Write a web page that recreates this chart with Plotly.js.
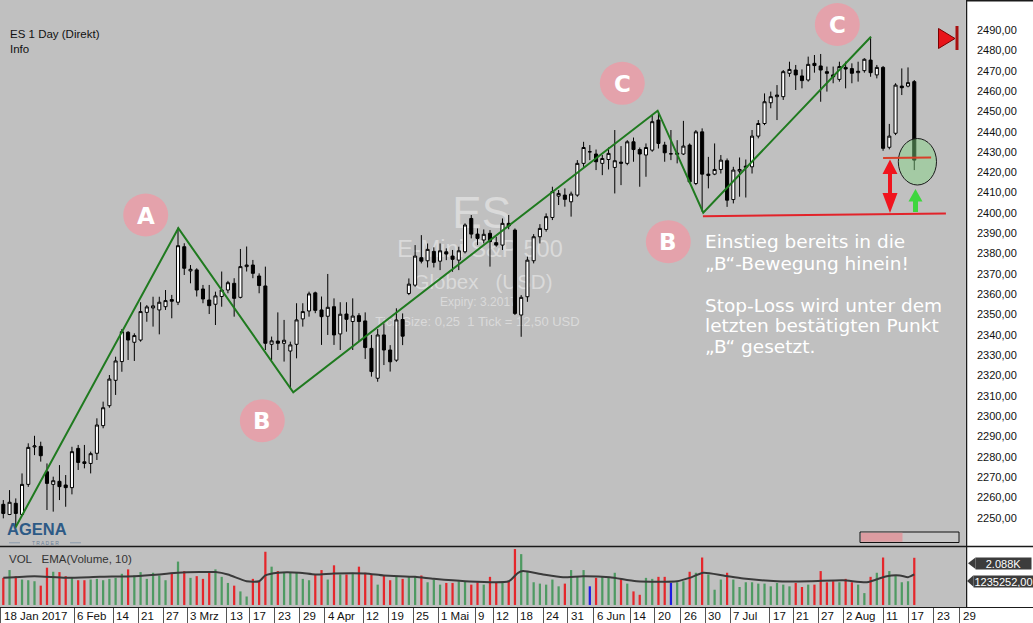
<!DOCTYPE html>
<html><head><meta charset="utf-8">
<script src="https://cdn.plot.ly/plotly-3.0.1.min.js"></script>
<style>html,body{margin:0;padding:0;background:#fff;overflow:hidden}#chart{width:1033px;height:623px}</style>
</head><body><div id="chart"></div>
<script>
// ---- Daily ES candles (bar index 0 = 18 Jan 2017 ... 146 = 17 Aug 2017) ----
const openP = [2256.7,2251.7,2257.2,2251.7,2266.5,2284.9,2285.2,2272.7,2266.5,2268.0,
2266.2,2264.9,2284.2,2277.6,2276.8,2281.8,2295.4,2305.2,2317.7,2326.9,
2341.3,2336.4,2337.5,2351.1,2353.3,2352.3,2353.9,2357.4,2356.1,2383.4,
2371.5,2372.0,2362.6,2357.2,2355.1,2358.9,2362.1,2365.4,2358.5,2373.6,
2374.4,2369.0,2364.1,2335.4,2337.0,2335.9,2332.1,2335.4,2347.9,2351.8,
2360.7,2352.3,2349.2,2353.9,2340.5,2350.3,2346.6,2349.5,2346.9,2333.4,
2318.7,2340.0,2332.6,2327.6,2347.6,2360.4,2364.5,2378.0,2376.5,2381.1,
2376.3,2380.9,2378.8,2376.8,2380.9,2397.3,2389.6,2386.7,2390.0,2385.4,
2384.2,2394.9,2391.6,2349.8,2358.8,2376.5,2388.3,2391.9,2397.8,2408.3,
2408.8,2405.5,2408.8,2424.4,2430.1,2429.0,2424.4,2426.3,2422.4,2425.0,
2424.4,2435.0,2431.2,2428.5,2430.9,2445.7,2433.4,2429.1,2428.8,2429.0,
2433.4,2414.5,2439.9,2418.4,2419.1,2421.4,2425.7,2406.6,2420.6,2422.4,
2422.7,2437.8,2444.0,2454.2,2457.2,2457.2,2468.7,2470.3,2467.4,2465.4,
2473.6,2472.3,2469.5,2467.9,2465.7,2471.6,2471.0,2469.0,2470.0,2475.2,
2467.9,2471.6,2432.3,2439.2,2462.4,2462.4,2464.6];
const highP = [2258.8,2263.7,2259.6,2271.9,2286.7,2290.4,2287.5,2276.8,2270.3,2276.0,
2271.1,2285.0,2285.9,2285.9,2282.6,2299.0,2307.2,2320.3,2329.3,2342.9,
2341.9,2340.8,2356.1,2354.7,2358.8,2358.8,2362.1,2359.7,2392.8,2385.1,
2374.4,2372.8,2364.6,2364.6,2361.3,2371.2,2366.6,2367.9,2382.3,2383.5,
2376.9,2370.3,2373.6,2339.2,2351.1,2347.4,2336.7,2355.6,2355.6,2361.3,
2361.3,2358.9,2370.0,2358.0,2356.1,2356.1,2358.0,2350.7,2351.1,2340.0,
2342.9,2345.7,2335.0,2353.1,2350.6,2367.8,2384.2,2389.1,2385.0,2383.1,
2385.0,2382.6,2381.8,2383.4,2394.9,2399.0,2392.4,2391.9,2391.6,2388.3,
2397.3,2399.0,2392.4,2359.6,2378.5,2389.6,2394.5,2399.8,2412.9,2411.3,
2412.1,2410.5,2426.0,2435.0,2433.4,2431.2,2428.5,2432.2,2440.8,2432.9,
2435.8,2437.1,2432.2,2434.2,2448.1,2449.8,2435.0,2440.8,2435.8,2445.3,
2434.2,2440.8,2441.6,2427.6,2434.2,2428.5,2426.8,2422.7,2427.3,2426.3,
2440.8,2445.7,2458.8,2459.7,2462.9,2470.3,2474.4,2472.8,2470.6,2476.9,
2477.7,2478.2,2472.0,2472.0,2474.4,2474.4,2473.6,2474.4,2476.1,2486.7,
2472.8,2472.3,2443.8,2463.8,2471.1,2471.6,2465.4];
const lowP = [2249.8,2251.4,2245.7,2251.4,2265.3,2280.9,2277.7,2253.9,2253.1,2258.8,
2255.5,2261.6,2273.6,2274.4,2271.9,2278.5,2294.1,2304.2,2310.5,2321.9,
2327.7,2327.2,2336.7,2346.5,2344.1,2340.3,2352.3,2348.2,2354.7,2369.5,
2365.4,2358.9,2355.6,2350.3,2344.9,2353.9,2360.5,2349.0,2358.0,2371.2,
2367.9,2360.5,2332.6,2327.7,2332.6,2326.9,2313.8,2328.5,2344.1,2349.0,
2350.7,2335.1,2340.0,2335.1,2332.6,2341.6,2332.6,2336.7,2328.2,2319.5,
2317.0,2325.2,2322.0,2326.8,2335.0,2359.6,2363.7,2375.2,2373.2,2373.2,
2371.9,2376.8,2371.1,2371.9,2380.1,2387.5,2384.2,2385.0,2373.6,2383.4,
2381.8,2392.0,2349.8,2339.1,2356.3,2375.2,2385.0,2390.8,2396.5,2403.9,
2403.1,2398.2,2408.0,2422.7,2426.0,2421.1,2418.6,2421.4,2409.6,2413.7,
2423.5,2425.2,2412.9,2417.8,2430.1,2431.7,2425.2,2426.0,2424.4,2428.5,
2414.5,2413.7,2400.6,2412.1,2418.6,2419.4,2403.0,2404.7,2408.0,2407.6,
2419.4,2436.7,2443.2,2451.5,2445.7,2455.6,2467.0,2460.5,2461.3,2464.6,
2469.0,2454.7,2459.7,2463.8,2464.6,2461.3,2463.8,2464.6,2469.0,2467.0,
2466.2,2430.6,2431.3,2438.3,2458.0,2461.8,2421.1];
const closeP = [2252.2,2257.7,2252.2,2266.5,2284.7,2285.4,2280.6,2267.0,2268.3,2265.4,
2264.9,2282.6,2277.3,2276.8,2281.6,2295.7,2304.2,2318.3,2327.2,2341.6,
2337.5,2339.7,2351.5,2353.8,2354.3,2356.1,2356.9,2356.6,2383.9,2372.8,
2372.3,2362.1,2357.7,2354.4,2359.2,2362.1,2365.7,2358.0,2373.6,2374.4,
2370.3,2364.3,2335.9,2337.1,2335.9,2337.4,2335.1,2347.4,2351.5,2360.2,
2352.1,2349.0,2353.6,2340.0,2350.2,2347.7,2349.3,2346.6,2333.8,2322.0,
2340.0,2332.6,2326.8,2347.4,2339.4,2365.0,2378.8,2376.3,2382.1,2375.7,
2381.4,2379.8,2377.2,2381.4,2394.1,2389.6,2387.5,2389.5,2385.9,2384.2,
2394.9,2393.6,2350.6,2358.5,2376.8,2388.3,2392.4,2398.2,2410.5,2409.6,
2406.7,2409.3,2424.4,2432.2,2430.1,2425.2,2426.8,2429.3,2425.7,2424.5,
2435.0,2431.2,2429.0,2432.2,2444.9,2434.2,2429.6,2429.1,2429.4,2432.9,
2415.3,2439.9,2419.1,2419.1,2421.4,2426.0,2406.3,2421.1,2421.4,2423.0,
2437.8,2444.0,2454.7,2457.2,2458.0,2469.5,2470.6,2467.9,2465.1,2473.1,
2472.5,2470.3,2468.7,2467.0,2472.0,2470.8,2468.7,2469.7,2475.6,2469.0,
2471.6,2431.8,2437.8,2462.9,2461.6,2464.1,2426.0];

// ---- Volume (thousands of contracts) and bar colour codes r/g/b ----
const volume = [1200,1545,1275,1125,1095,1050,855,1650,1470,1455,
1275,1230,1095,1095,1125,1155,1095,1155,1200,1380,
1575,1305,1455,1155,1425,1305,1095,1425,1920,1500,
1200,1275,1155,1455,1575,1245,975,855,600,375,
1155,1050,2355,1695,1500,1425,1425,1425,1155,1095,
1350,1545,1125,1755,1350,1350,1425,1695,1425,1350,
900,1305,1095,1245,1155,1275,1245,1305,1005,1125,
900,975,975,1050,1050,900,1005,900,1245,975,
1005,1050,2475,2250,1500,1005,945,900,1125,825,
945,1545,1275,1545,825,1200,1245,1245,1425,1155,
945,600,450,1200,1155,1245,1245,975,1005,1050,
1470,1425,2100,1350,675,1125,1425,1125,795,1005,
1005,945,945,825,975,900,825,975,795,900,
900,1500,1005,1050,1005,1155,1005,900,525,1245,
1425,2100,1500,1305,1005,1050,2088];
const volColorCodes = ("rgrgggrrgr"+"rgrrgggggg"+"rggggggrgr"+"grrrgggrgg"+"rrrgrggggg"+
"rrgrgrgrrr"+"grrgrggrgg"+"grrggrrgrr"+"grrggggggg"+"rgggbrgggr"+"grrggrrbgg"+
"rgrgggrggg"+"gggggggrrg"+"rrrrgrrggr"+"grggggr").split("");
// EMA(Volume,10) at these bar positions
const emaIdx = [0,5,10,15.5,21,25,28,31.5,34,36,39,41,42,44,47.5,50,53,58,61,66,69,74,81,82.5,83.3,86.5,89.7,92.9,97.2,101.5,108,110,112.2,115.4,118.6,124,129.3,134.6,138.4,141.6,143.7,145,146];
const emaVal = [1200,1275,1200,1245,1275,1350,1425,1455,1455,1350,1050,1050,1305,1425,1425,1350,1395,1395,1305,1245,1155,1050,1050,1425,1500,1350,1230,1275,1230,1050,1050,1200,1425,1305,1170,1050,1050,1095,1005,1275,1305,1230,1350];

// ---- axis labels ----
const priceTicks = [2250,2260,2270,2280,2290,2300,2310,2320,2330,2340,2350,2360,2370,2380,2390,2400,2410,2420,2430,2440,2450,2460,2470,2480,2490];
const dateTickPos = [-0.45,11.33,17.63,21.63,25.64,29.49,35.8,39.5,43.5,47.5,51.55,57.7,61.7,65.7,69.7,75.6,78.5,82.4,86.5,90.5,94.6,100.5,104.4,108.6,112.5,116.5,122.8,126.6,130.6,134.6,141,145,149.1,153.3];
const dateTickText = ["18 Jan 2017","6 Feb","14","21","27","3 Mrz","13","17","23","29","4 Apr","12","19","25","1 Mai","9","12","18","24","31","6 Jun","14","20","26","30","7 Jul","17","21","27","2 Aug","11","17","23","29"];

// ---- drawn analysis lines (bar index / price) ----
const zigzagX = [1.88,28.05,46.47,104.87,112.18,139.06];
const zigzagY = [2244.9,2392.5,2311.8,2450.3,2400.1,2486.7];
const supportX = [112.13,151.07];
const supportY = [2398.4,2399.7];
const entryLineX = [141.0,148.7];
const entryLineY = [2427.0,2427.3];

// ---- pixel helpers for decorations ----
const PW = 965, PH = 607;
const P = {x: v => v / PW, y: v => (PH - v) / PH};
function poly(pts){ return 'M' + pts.map(p => P.x(p[0]).toFixed(5) + ',' + P.y(p[1]).toFixed(5)).join('L') + 'Z'; }

const idx = openP.map((_, i) => i);
const colMap = {r:'#e5262b', g:'#4e9a62', b:'#1c1ce0'};

const traces = [
  {type:'candlestick', x:idx, open:openP, high:highP, low:lowP, close:closeP, xaxis:'x', yaxis:'y',
   increasing:{line:{color:'#000', width:1}, fillcolor:'#ffffff'},
   decreasing:{line:{color:'#000', width:1}, fillcolor:'#000000'},
   whiskerwidth:0, hoverinfo:'skip', showlegend:false},
  {type:'scatter', mode:'lines', x:zigzagX, y:zigzagY, xaxis:'x', yaxis:'y',
   line:{color:'#1f7a1f', width:2}, hoverinfo:'skip', showlegend:false},
  {type:'scatter', mode:'lines', x:supportX, y:supportY, xaxis:'x', yaxis:'y',
   line:{color:'#e2232a', width:2}, hoverinfo:'skip', showlegend:false, cliponaxis:false},
  {type:'bar', x:idx, y:volume, xaxis:'x', yaxis:'y2', width:0.36,
   marker:{color:volColorCodes.map(c => colMap[c]), line:{width:0}}, hoverinfo:'skip', showlegend:false},
  {type:'scatter', mode:'lines', x:emaIdx, y:emaVal, xaxis:'x', yaxis:'y2',
   line:{color:'#3a3a3a', width:2, shape:'spline', smoothing:0.6}, hoverinfo:'skip', showlegend:false}
];

const wm = (text, cx, cy, size) => ({type:'rect', xref:'paper', yref:'paper', layer:'below',
  x0:P.x(cx-120), x1:P.x(cx+120), y0:P.y(cy+size*0.6), y1:P.y(cy-size*0.6),
  line:{width:0}, fillcolor:'rgba(0,0,0,0)',
  label:{text:text, textposition:'middle center', font:{family:'Liberation Sans, Arial, sans-serif', size:size, color:'#dadada'}}});

const shapes = [
  wm('ES', 481.7, 208, 44),
  wm('E-Mini S&amp;P 500', 480, 246.5, 23.5),
  wm('Globex\u00a0\u00a0\u00a0(USD)', 483, 280, 20.5),
  wm('Expiry: 3.2017', 478.4, 300.5, 12),
  wm('Tick Size: 0,25\u00a0\u00a01 Tick = 12,50 USD', 477.5, 320, 13),
];
const letters = [['A',145.7,215],['B',262.3,420.7],['C',622.3,83.3],['B',668.3,241.7],['C',837.3,24.5]];
letters.forEach(l => shapes.push({type:'circle', xref:'paper', yref:'paper',
  x0:P.x(l[1]-22.5), x1:P.x(l[1]+22.5), y0:P.y(l[2]+21.5), y1:P.y(l[2]-21.5),
  fillcolor:'#e4a2ab', line:{width:0}}));
// entry circle, stop line, arrows
shapes.push({type:'circle', xref:'paper', yref:'paper', x0:P.x(898.3), x1:P.x(936.5), y0:P.y(185), y1:P.y(138.5),
  fillcolor:'rgba(130,215,130,0.45)', line:{color:'#1a1a1a', width:1}});
shapes.push({type:'line', xref:'x', yref:'y', x0:entryLineX[0], x1:entryLineX[1], y0:entryLineY[0], y1:entryLineY[1],
  line:{color:'#d8402a', width:2}});
shapes.push({type:'path', xref:'paper', yref:'paper', fillcolor:'#f0141e', line:{width:0},
  path:poly([[890,159.5],[897.5,174],[892,174],[892,193],[897.5,193],[890,213],[882.5,193],[888,193],[888,174],[882.5,174]])});
shapes.push({type:'path', xref:'paper', yref:'paper', fillcolor:'#3ed63e', line:{width:0},
  path:poly([[915.5,189],[922.5,201.5],[918,201.5],[918,212],[913,212],[913,201.5],[908.5,201.5]])});
// red "go to end" icon
shapes.push({type:'path', xref:'paper', yref:'paper', fillcolor:'#e8141a', line:{color:'#7a0000', width:1},
  path:poly([[938.5,28.5],[955,38.5],[938.5,48.5]])});
shapes.push({type:'rect', xref:'paper', yref:'paper', x0:P.x(955.5), x1:P.x(958.5), y0:P.y(50), y1:P.y(26),
  fillcolor:'#a81010', line:{width:0}});
// scroll bar
shapes.push({type:'rect', xref:'paper', yref:'paper', x0:P.x(860), x1:P.x(959), y0:P.y(542.5), y1:P.y(532),
  fillcolor:'#c6c6c6', line:{color:'#111', width:1}});
shapes.push({type:'rect', xref:'paper', yref:'paper', x0:P.x(861), x1:P.x(902.5), y0:P.y(541.8), y1:P.y(532.8),
  fillcolor:'#dc9ca1', line:{width:0}});
// frame lines
shapes.push({type:'line', xref:'paper', yref:'paper', x0:P.x(0), x1:P.x(1033), y0:P.y(546.5), y1:P.y(546.5), line:{color:'#1a1a1a', width:1.5}});
shapes.push({type:'line', xref:'paper', yref:'paper', x0:P.x(0), x1:P.x(1033), y0:P.y(607.5), y1:P.y(607.5), line:{color:'#1a1a1a', width:1}});
shapes.push({type:'line', xref:'paper', yref:'paper', x0:P.x(966.5), x1:P.x(966.5), y0:P.y(0), y1:P.y(607.5), line:{color:'#1a1a1a', width:1.5}});
shapes.push({type:'line', xref:'paper', yref:'paper', x0:P.x(966), x1:P.x(1033), y0:P.y(0.7), y1:P.y(0.7), line:{color:'#1a1a1a', width:1.5}});
// value-marker arrows on right of volume panel
shapes.push({type:'path', xref:'paper', yref:'paper', fillcolor:'#3c3c3c', line:{width:0}, path:poly([[968,563.3],[975.5,557.5],[975.5,569]])});
shapes.push({type:'path', xref:'paper', yref:'paper', fillcolor:'#3c3c3c', line:{width:0}, path:poly([[967,581],[973.5,575.3],[973.5,586.8]])});
// thin rules beside the logo's "TRADER"
shapes.push({type:'line', xref:'paper', yref:'paper', x0:P.x(9), x1:P.x(20), y0:P.y(542.8), y1:P.y(542.8), line:{color:'#8a9aab', width:1}});
shapes.push({type:'line', xref:'paper', yref:'paper', x0:P.x(70), x1:P.x(81), y0:P.y(542.8), y1:P.y(542.8), line:{color:'#8a9aab', width:1}});

const annotations = [];
const txt = (text, x, y, opts) => Object.assign({text:text, xref:'paper', yref:'paper', x:P.x(x), y:P.y(y),
  showarrow:false, xanchor:'left', yanchor:'middle'}, opts || {});
annotations.push(txt('ES 1 Day (Direkt)', 8, 34, {font:{size:11.5, color:'#111'}}));
annotations.push(txt('Info', 8, 49, {font:{size:11.5, color:'#111'}}));
letters.forEach(l => annotations.push(txt(l[0], l[1], l[2]+0.5, {xanchor:'center',
  font:{family:'DejaVu Sans, sans-serif', size:23, color:'#ffffff', weight:'bold'}})));
const infoLines = [['Einstieg bereits in die',241.7],['\u201eB\u201c-Bewegung hinein!',263.3],
  ['Stop-Loss wird unter dem',305],['letzten bestätigten Punkt',326],['\u201eB\u201c gesetzt.',346.5]];
infoLines.forEach(l => annotations.push(txt(l[0], 703, l[1], {font:{family:'DejaVu Sans, sans-serif', size:18.5, color:'#ffffff'}})));
annotations.push(txt('VOL\u00a0\u00a0\u00a0EMA(Volume, 10)', 7, 558.5, {font:{size:11.5, color:'#333'}}));
annotations.push(txt('AGENA', 6, 528.5, {borderpad:0, font:{family:'Liberation Sans, Arial', size:16.5, color:'#2d5a86', weight:'bold'}}));
annotations.push(txt('T R A D E R', 45, 543.2, {xanchor:'center', borderpad:0, font:{size:5, color:'#6d8198'}}));
annotations.push(txt('2.088K', 1003, 563.3, {xanchor:'center', bgcolor:'#3c3c3c', width:55, height:11, borderpad:0, font:{size:11, color:'#ffffff'}}));
annotations.push(txt('1235252,00', 1003.2, 581, {xanchor:'center', bgcolor:'#3c3c3c', width:59, height:11, borderpad:0, font:{size:11, color:'#ffffff'}}));
dateTickPos.forEach((p, k) => annotations.push({text:dateTickText[k], xref:'x', yref:'paper', x:p, y:0,
  xanchor:'left', yanchor:'top', xshift:1, yshift:-0.5, showarrow:false, font:{size:11.5, color:'#111'}}));

const layout = {
  width:1033, height:623, margin:{l:0, r:68, t:0, b:16, pad:0},
  paper_bgcolor:'#ffffff', plot_bgcolor:'#c0c0c0', showlegend:false, separators:',.',
  font:{family:'Liberation Sans, Arial, sans-serif', size:11, color:'#111'},
  xaxis:{range:[-0.53,154.13], anchor:'y2', showgrid:false, zeroline:false, showticklabels:false,
    ticks:'outside', tickvals:dateTickPos, ticklen:15, tickcolor:'#555', tickwidth:1, showline:false,
    rangeslider:{visible:false}, fixedrange:true},
  yaxis:{domain:[0.1005,1], range:[2236.2,2504.75], side:'right', anchor:'x', showgrid:false, zeroline:false,
    tickvals:priceTicks, tickformat:'.2f', ticks:'', ticklabelstandoff:11, tickfont:{size:11, color:'#111'}, fixedrange:true},
  yaxis2:{domain:[0,0.1005], range:[-90,2610], anchor:'x', showgrid:false, zeroline:false, showticklabels:false, ticks:'', fixedrange:true},
  shapes:shapes, annotations:annotations
};
Plotly.newPlot('chart', traces, layout, {staticPlot:true, displayModeBar:false});
</script></body></html>
